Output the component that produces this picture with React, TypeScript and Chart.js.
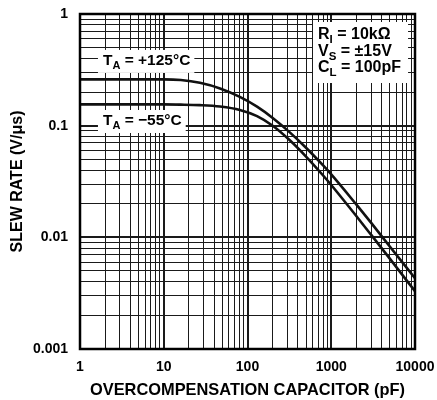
import React, { useEffect, useRef } from 'react';
import { Chart, registerables } from 'chart.js';

Chart.register(...registerables);

// ---- data ----
const CAPACITANCE_PF = [1, 10, 16, 27, 47, 81, 130, 200, 320, 500, 800, 1000, 2000, 3000, 5000, 10000];
const SLEW_HOT_125C = [0.26, 0.26, 0.2564, 0.242, 0.2155, 0.181, 0.148, 0.1172, 0.0871, 0.0634, 0.044, 0.0366, 0.0196, 0.01346, 0.00828, 0.0043];
const SLEW_COLD_M55C = [0.155, 0.155, 0.1543, 0.1527, 0.1484, 0.1384, 0.1218, 0.0999, 0.074, 0.0529, 0.0358, 0.0294, 0.01545, 0.01051, 0.00644, 0.00329];

const X_DECADES = [1, 10, 100, 1000, 10000];
const X_TICK_LABELS = ['1', '10', '100', '1000', '10000'];
const Y_DECADES = [0.001, 0.01, 0.1, 1];
const Y_TICK_LABELS = ['0.001', '0.01', '0.1', '1'];
const GRID_STEPS = [1, 2, 3, 4, 5, 6, 7, 8, 9];

const X_TITLE = 'OVERCOMPENSATION CAPACITOR (pF)';
const Y_TITLE = 'SLEW RATE (V/\u03BCs)';

type Part = { t: string; sub?: boolean };
const CURVE_LABELS: { x: number; y: number; parts: Part[] }[] = [
  { x: 1.88, y: 0.35, parts: [{ t: 'T' }, { t: 'A', sub: true }, { t: ' = +125\u00B0C' }] },
  { x: 1.88, y: 0.1014, parts: [{ t: 'T' }, { t: 'A', sub: true }, { t: ' = \u221255\u00B0C' }] },
];
const CONDITIONS: Part[][] = [
  [{ t: 'R' }, { t: 'I', sub: true }, { t: ' = 10k\u03A9' }],
  [{ t: 'V' }, { t: 'S', sub: true }, { t: ' = \u00B115V' }],
  [{ t: 'C' }, { t: 'L', sub: true }, { t: ' = 100pF' }],
];

const FONT = '"Liberation Sans", Arial, Helvetica, sans-serif';

function gridValues(decades: number[]): number[] {
  const out: number[] = [];
  for (let i = 0; i < decades.length - 1; i++) {
    for (const s of GRID_STEPS) out.push(decades[i] * s);
  }
  out.push(decades[decades.length - 1]);
  return out;
}
const X_GRID = gridValues(X_DECADES);
const Y_GRID = gridValues(Y_DECADES);

function decadeIndex(decades: number[], v: number): number {
  return decades.findIndex((d) => Math.abs(v / d - 1) < 1e-6);
}

function richWidth(ctx: CanvasRenderingContext2D, parts: Part[], size: number, subSize: number) {
  let w = 0;
  for (const p of parts) {
    ctx.font = `bold ${p.sub ? subSize : size}px ${FONT}`;
    w += ctx.measureText(p.t).width;
  }
  return w;
}

function drawRich(ctx: CanvasRenderingContext2D, x: number, y: number, parts: Part[], size: number, subSize: number) {
  let cx = x;
  ctx.fillStyle = '#000';
  ctx.textAlign = 'left';
  ctx.textBaseline = 'alphabetic';
  for (const p of parts) {
    ctx.font = `bold ${p.sub ? subSize : size}px ${FONT}`;
    ctx.fillText(p.t, cx, p.sub ? y + 4 : y);
    cx += ctx.measureText(p.t).width;
  }
  return cx - x;
}

const annotationPlugin = {
  id: 'annotations',
  afterDraw(chart: any) {
    const { ctx, chartArea, scales } = chart;
    const xs = scales.x;
    const ys = scales.y;
    ctx.save();
    for (const lab of CURVE_LABELS) {
      const px = xs.getPixelForValue(lab.x);
      const py = ys.getPixelForValue(lab.y);
      const w = richWidth(ctx, lab.parts, 15.5, 11);
      ctx.fillStyle = '#fff';
      ctx.fillRect(px - 5, py - 15, w + 9, 23);
      drawRich(ctx, px, py, lab.parts, 15.5, 11);
    }
    const boxLeft = chartArea.right - 102;
    const boxTop = chartArea.top + 8;
    let maxW = 0;
    for (const line of CONDITIONS) maxW = Math.max(maxW, richWidth(ctx, line, 16, 11.5));
    ctx.fillStyle = '#fff';
    ctx.fillRect(boxLeft, boxTop, maxW + 12, 61);
    CONDITIONS.forEach((line, i) => {
      drawRich(ctx, boxLeft + 5, boxTop + 17 + i * 16.7, line, 16, 11.5);
    });
    ctx.strokeStyle = '#000';
    ctx.lineWidth = 2.5;
    ctx.strokeRect(chartArea.left, chartArea.top, chartArea.right - chartArea.left, chartArea.bottom - chartArea.top);
    ctx.restore();
  },
};

export default function App() {
  const canvasRef = useRef<HTMLCanvasElement | null>(null);

  useEffect(() => {
    const canvas = canvasRef.current;
    if (!canvas) return;
    const chart = new Chart(canvas, {
      type: 'line',
      data: {
        datasets: [
          {
            label: 'TA = +125°C',
            data: CAPACITANCE_PF.map((c, i) => ({ x: c, y: SLEW_HOT_125C[i] })),
            borderColor: '#111',
            borderWidth: 2.6,
            pointRadius: 0,
            cubicInterpolationMode: 'monotone',
            fill: false,
          },
          {
            label: 'TA = −55°C',
            data: CAPACITANCE_PF.map((c, i) => ({ x: c, y: SLEW_COLD_M55C[i] })),
            borderColor: '#111',
            borderWidth: 2.6,
            pointRadius: 0,
            cubicInterpolationMode: 'monotone',
            fill: false,
          },
        ],
      },
      options: {
        animation: false,
        responsive: false,
        devicePixelRatio: 1,
        layout: { padding: { left: 0, right: 22, top: 14, bottom: 0 } },
        plugins: { legend: { display: false }, tooltip: { enabled: false } },
        scales: {
          x: {
            type: 'logarithmic',
            min: 1,
            max: 10000,
            afterBuildTicks: (scale: any) => {
              scale.ticks = X_GRID.map((v) => ({ value: v }));
            },
            afterFit: (scale: any) => {
              scale.height = 51;
              scale.paddingLeft = 0;
              scale.paddingRight = 0;
            },
            grid: {
              color: '#1a1a1a',
              lineWidth: (c: any) => (decadeIndex(X_DECADES, c.tick?.value) >= 0 ? 2 : 1),
              drawTicks: false,
            },
            border: { display: false },
            ticks: {
              autoSkip: false,
              maxRotation: 0,
              padding: 10,
              color: '#000',
              font: { family: FONT, size: 14, weight: 'bold' },
              callback: (value: any) => {
                const i = decadeIndex(X_DECADES, Number(value));
                return i >= 0 ? X_TICK_LABELS[i] : '';
              },
            },
            title: {
              display: true,
              text: X_TITLE,
              color: '#000',
              font: { family: FONT, size: 16.4, weight: 'bold' },
              padding: { top: 0, bottom: 0 },
            },
          },
          y: {
            type: 'logarithmic',
            min: 0.001,
            max: 1,
            afterBuildTicks: (scale: any) => {
              scale.ticks = Y_GRID.map((v) => ({ value: v }));
            },
            afterFit: (scale: any) => {
              scale.width = 80;
              scale.paddingTop = 0;
              scale.paddingBottom = 0;
            },
            grid: {
              color: '#1a1a1a',
              lineWidth: (c: any) => (decadeIndex(Y_DECADES, c.tick?.value) >= 0 ? 2 : 1),
              drawTicks: false,
            },
            border: { display: false },
            ticks: {
              autoSkip: false,
              padding: 12,
              color: '#000',
              font: { family: FONT, size: 14, weight: 'bold' },
              callback: (value: any) => {
                const i = decadeIndex(Y_DECADES, Number(value));
                return i >= 0 ? Y_TICK_LABELS[i] : '';
              },
            },
            title: {
              display: true,
              text: Y_TITLE,
              color: '#000',
              font: { family: FONT, size: 16, weight: 'bold' },
              padding: { top: 8, bottom: 0 },
            },
          },
        },
      },
      plugins: [annotationPlugin],
    } as any);
    return () => chart.destroy();
  }, []);

  return (
    <div style={{ position: 'fixed', left: 0, top: 0, width: 437, height: 400, background: '#fff' }}>
      <canvas ref={canvasRef} width={437} height={400} style={{ display: 'block' }} />
    </div>
  );
}
